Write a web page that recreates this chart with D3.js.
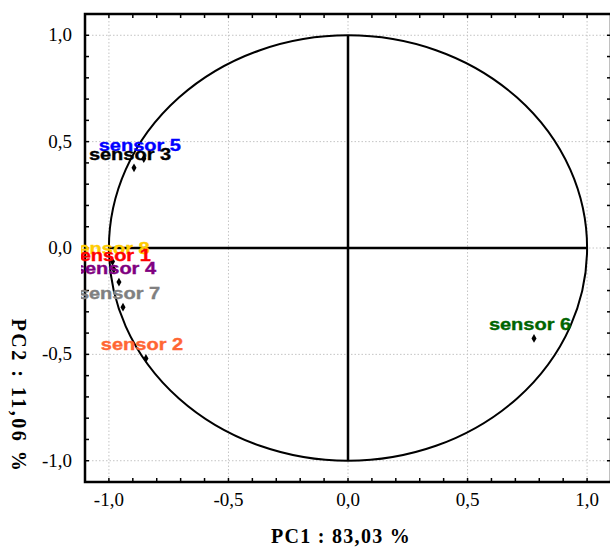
<!DOCTYPE html>
<html><head><meta charset="utf-8">
<script src="https://cdn.jsdelivr.net/npm/d3@7"></script>
<style>body{margin:0;background:#fff}svg{display:block}</style>
</head><body>
<svg id="c" width="610" height="547"></svg>
<script>
const sensors = ["sensor 5","sensor 3","sensor 8","sensor 1","sensor 4","sensor 7","sensor 2","sensor 6"];
const pc1 = [-0.854,-0.895,-0.985,-0.98,-0.958,-0.941,-0.845,0.778];
const pc2 = [0.42,0.377,-0.064,-0.10,-0.16,-0.278,-0.519,-0.425];
const labelColors = ["#0000ff","#000000","#ffcc00","#ff0000","#800080","#808080","#ff6633","#006400"];
const majorTicks = [-1,-0.5,0,0.5,1];
const tickLabels = ["-1,0","-0,5","0,0","0,5","1,0"];
const xTitle = "PC1 : 83,03 %";
const yTitle = "PC2 : 11,06 %";

const svg = d3.select("#c");
const L=85, T=14, R=611, B=482;
const x = d3.scaleLinear().domain([-1.1,1.1]).range([L,R]);
const y = d3.scaleLinear().domain([-1.1,1.1]).range([B,T]);
const minor = d3.range(-11,12).map(d=>d/10);

// grid
const g = svg.append("g");
g.selectAll(".gx").data(majorTicks).join("line")
  .attr("x1",d=>x(d)).attr("x2",d=>x(d)).attr("y1",T).attr("y2",B)
  .attr("stroke","#c4c4c4").attr("stroke-width",1).attr("stroke-dasharray","1.5,2");
g.selectAll(".gy").data(majorTicks).join("line")
  .attr("y1",d=>y(d)).attr("y2",d=>y(d)).attr("x1",L).attr("x2",R)
  .attr("stroke","#c4c4c4").attr("stroke-width",1).attr("stroke-dasharray","1.5,2");

// minor ticks inward on all sides
const tk = svg.append("g").attr("stroke","#000").attr("stroke-width",1.5);
minor.forEach(v=>{
  tk.append("line").attr("x1",x(v)).attr("x2",x(v)).attr("y1",B).attr("y2",B-4);
  tk.append("line").attr("x1",x(v)).attr("x2",x(v)).attr("y1",T).attr("y2",T+4);
  tk.append("line").attr("y1",y(v)).attr("y2",y(v)).attr("x1",L).attr("x2",L+4);
  tk.append("line").attr("y1",y(v)).attr("y2",y(v)).attr("x1",R).attr("x2",R-4);
});

// unit circle
svg.append("ellipse").attr("cx",x(0)).attr("cy",y(0))
  .attr("rx",x(1)-x(0)).attr("ry",y(0)-y(1))
  .attr("fill","none").attr("stroke","#000").attr("stroke-width",2);
// cross lines
svg.append("line").attr("x1",x(0)).attr("x2",x(0)).attr("y1",y(1)).attr("y2",y(-1))
  .attr("stroke","#000").attr("stroke-width",2.5);
svg.append("line").attr("x1",x(-1)).attr("x2",x(1)).attr("y1",y(0)).attr("y2",y(0))
  .attr("stroke","#000").attr("stroke-width",2.5);

// frame
svg.append("rect").attr("x",L).attr("y",T).attr("width",R-L).attr("height",B-T)
  .attr("fill","none").attr("stroke","#000").attr("stroke-width",2.5);

// points
const data = sensors.map((s,i)=>({s,x:pc1[i],y:pc2[i],c:labelColors[i]}));
svg.append("g").selectAll("path").data(data).join("path")
  .attr("d",d3.symbol().type(d3.symbolDiamond).size(22))
  .attr("transform",d=>`translate(${x(d.x)},${y(d.y)})`).attr("fill","#000");

// labels clipped
svg.append("clipPath").attr("id","clip").append("rect")
  .attr("x",81).attr("y",T).attr("width",R-81).attr("height",B-T);
const lab = svg.append("g").attr("clip-path","url(#clip)");
lab.selectAll("text").data(data).join("text")
  .attr("transform",d=>`translate(${x(d.x)-4},${y(d.y)-8}) scale(1.25,1)`)
  .attr("text-anchor","middle")
  .attr("font-family","'Liberation Sans',Arial,sans-serif").attr("font-weight","bold")
  .attr("font-size",16).attr("fill",d=>d.c)
  .attr("stroke",d=>d.c).attr("stroke-width",0.35).text(d=>d.s);

// tick labels
svg.append("g").selectAll("text").data(majorTicks).join("text")
  .attr("x",d=>x(d)).attr("y",506).attr("text-anchor","middle")
  .attr("font-family","'Liberation Serif','Times New Roman',serif").attr("font-size",19)
  .text((d,i)=>tickLabels[i]);
svg.append("g").selectAll("text").data(majorTicks).join("text")
  .attr("x",72).attr("y",d=>y(d)+6).attr("text-anchor","end")
  .attr("font-family","'Liberation Serif','Times New Roman',serif").attr("font-size",19)
  .text((d,i)=>tickLabels[i]);

// titles
svg.append("text").attr("x",341).attr("y",543).attr("text-anchor","middle")
  .attr("font-family","'Liberation Serif','Times New Roman',serif").attr("font-weight","bold")
  .attr("font-size",20).attr("letter-spacing",1.3).text(xTitle);
svg.append("text").attr("transform","translate(12,396) rotate(90)").attr("text-anchor","middle")
  .attr("font-family","'Liberation Serif','Times New Roman',serif").attr("font-weight","bold")
  .attr("font-size",20).attr("letter-spacing",2.5).text(yTitle);
</script>
</body></html>
